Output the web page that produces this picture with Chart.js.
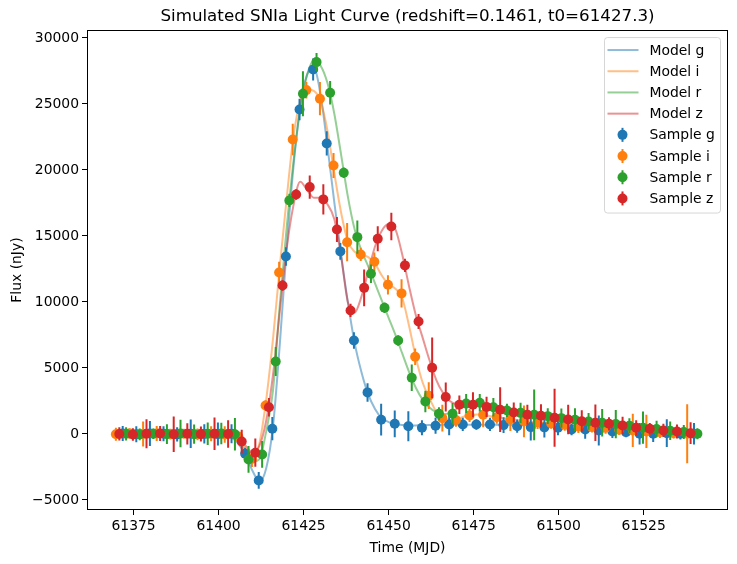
<!DOCTYPE html>
<html><head><meta charset="utf-8">
<script src="https://cdn.jsdelivr.net/npm/chart.js@4.4.1/dist/chart.umd.min.js"></script>
<style>html,body{margin:0;padding:0;background:#fff;}#wrap{width:737px;height:564px;}</style>
</head><body><div id="wrap"><canvas id="c" width="737" height="564"></canvas></div>
<script>
// ---------- data ----------
const titleText = 'Simulated SNIa Light Curve (redshift=0.1461, t0=61427.3)';
const xTicks = [61375, 61400, 61425, 61450, 61475, 61500, 61525];
const yTicks = [-5000, 0, 5000, 10000, 15000, 20000, 25000, 30000];

const timesG = [61371.8,61375.8,61379.8,61383.8,61387.8,61391.8,61395.8,61399.8,61403.8,61407.8,61411.8,61415.8,61419.8,61423.8,61427.8,61431.8,61435.8,61439.8,61443.8,61447.8,61451.8,61455.8,61459.8,61463.8,61467.8,61471.8,61475.8,61479.8,61483.8,61487.8,61491.8,61495.8,61499.8,61503.8,61507.8,61511.8,61515.8,61519.8,61523.8,61527.8,61531.8,61535.8,61539.8];
const timesI = [61369.8,61373.8,61377.8,61381.8,61385.8,61389.8,61393.8,61397.8,61401.8,61405.8,61409.8,61413.8,61417.8,61421.8,61425.8,61429.8,61433.8,61437.8,61441.8,61445.8,61449.8,61453.8,61457.8,61461.8,61465.8,61469.8,61473.8,61477.8,61481.8,61485.8,61489.8,61493.8,61497.8,61501.8,61505.8,61509.8,61513.8,61517.8,61521.8,61525.8,61529.8,61533.8,61537.8];
const timesR = [61372.8,61376.8,61380.8,61384.8,61388.8,61392.8,61396.8,61400.8,61404.8,61408.8,61412.8,61416.8,61420.8,61424.8,61428.8,61432.8,61436.8,61440.8,61444.8,61448.8,61452.8,61456.8,61460.8,61464.8,61468.8,61472.8,61476.8,61480.8,61484.8,61488.8,61492.8,61496.8,61500.8,61504.8,61508.8,61512.8,61516.8,61520.8,61524.8,61528.8,61532.8,61536.8,61540.8];
const timesZ = [61370.8,61374.8,61378.8,61382.8,61386.8,61390.8,61394.8,61398.8,61402.8,61406.8,61410.8,61414.8,61418.8,61422.8,61426.8,61430.8,61434.8,61438.8,61442.8,61446.8,61450.8,61454.8,61458.8,61462.8,61466.8,61470.8,61474.8,61478.8,61482.8,61486.8,61490.8,61494.8,61498.8,61502.8,61506.8,61510.8,61514.8,61518.8,61522.8,61526.8,61530.8,61534.8,61538.8];

const fluxG = [30,-20,40,10,-30,20,0,-10,10,-1500,-3520,400,13450,24580,27610,22010,13830,7080,3150,1080,770,590,470,620,720,720,720,720,670,590,520,500,470,340,340,265,190,140,15,15,60,15,15];
const fluxI = [-20,40,0,30,-10,20,-30,10,-40,-200,-1900,2160,12230,22310,26050,25400,20340,14530,13600,13050,11300,10650,5850,2900,1200,1050,1400,1450,1270,1100,960,880,790,700,570,520,470,320,265,190,140,60,15];
const fluxR = [10,-30,20,-10,30,-20,10,40,-20,-1930,-1550,5490,17690,25770,28170,25850,19790,14910,12140,9560,7080,4260,2460,1530,1530,2300,2360,2030,1780,1600,1450,1350,1200,1080,950,850,750,620,480,380,250,150,15];
const fluxZ = [0,-40,20,30,-20,10,-10,20,0,-570,-1420,2030,11250,18140,18700,17770,15490,9360,11070,14790,15720,12770,8520,5010,2800,2220,2210,2050,1840,1630,1460,1380,1230,1090,970,850,770,640,470,390,265,190,60];

const errG = [570,610,950,570,540,1080,730,870,720,450,630,880,700,820,830,920,630,630,700,1200,1010,1140,570,600,820,500,400,500,600,500,1010,760,570,440,700,1140,500,380,820,630,1050,440,820];
const errI = [500,400,950,570,400,320,440,570,620,320,600,400,820,1200,630,1260,950,1450,500,700,730,1070,630,1010,1010,500,500,950,500,880,1200,500,400,450,500,400,450,400,1260,1260,450,400,2240];
const errR = [500,440,400,750,1040,730,850,810,1230,1010,1010,1100,500,1700,700,885,400,1260,700,400,400,1010,820,500,820,720,660,700,500,760,1920,600,720,860,630,1040,1070,570,1230,630,700,530,420];
const errZ = [500,480,1100,570,1350,800,570,1230,1040,890,1070,700,400,400,885,1140,940,500,1390,950,1040,500,570,2300,1100,700,950,760,1700,760,760,870,2200,1120,820,1390,500,660,570,440,500,530,820];

const modelTimes = [61369.8,61380,61390,61396,61400,61402,61404,61406,61408,61410,61412,61414,61416,61418,61420,61422,61424,61426,61428,61430,61432,61434,61436,61438,61440,61442,61444,61446,61448,61450,61452,61454,61456,61458,61460,61462,61464,61466,61468,61470,61472,61474,61476,61478,61480,61490,61500,61510,61520,61530,61540.8];
const modelG = [0,0,0,0,-20,-80,-300,-800,-1600,-2800,-3600,-2600,600,6800,14000,20200,24800,27200,27700,25700,21800,17600,13600,10000,6900,4700,3000,1900,1200,900,750,680,650,650,660,670,680,690,700,700,700,700,700,700,700,680,600,470,300,150,20];
const modelI = [0,0,0,0,0,-50,-150,-400,-1100,-1800,-700,2600,7200,12700,17800,22500,25200,26100,26000,25200,23000,19800,16800,14600,13800,13600,13400,12900,12000,11300,11000,10300,8200,5800,3900,2700,1700,1200,1050,1100,1300,1420,1470,1440,1350,960,740,520,300,140,10];
const modelR = [0,0,0,0,0,-20,-100,-500,-1400,-2100,-1900,200,3300,9800,15600,20600,24600,27200,28300,27900,26600,24300,21200,18000,15500,13900,12700,11400,10100,8800,7500,6100,4700,3500,2600,2000,1650,1500,1600,1900,2200,2350,2350,2250,2100,1550,1230,890,640,330,20];
const modelZ = [0,0,0,0,0,-30,-100,-400,-900,-1400,-900,1000,4500,9300,14000,17300,19100,18500,17900,17900,17400,16300,13500,10000,9200,10400,12300,14200,15400,15900,15500,13600,11200,9000,7300,5600,4100,3100,2500,2250,2200,2200,2150,2080,2000,1500,1180,820,560,270,30];

// ---------- styling ----------
const X_MIN = 61361.3, X_MAX = 61549.8, Y_MIN = -5760, Y_MAX = 30600;
const FONT = 'DejaVu Sans';
const COL = {g:'#1f77b4', i:'#ff7f0e', r:'#2ca02c', z:'#d62728'};
const COLA = {g:'rgba(31,119,180,0.5)', i:'rgba(255,127,14,0.5)', r:'rgba(44,160,44,0.5)', z:'rgba(214,39,40,0.5)'};

const pts = (t, v) => t.map((x, k) => ({x: x, y: v[k]}));
const bars = (t, v, e) => {
  const out = [];
  t.forEach((x, k) => { out.push({x: x, y: v[k] - e[k]}); out.push({x: x, y: v[k] + e[k]}); out.push({x: x, y: null}); });
  return out;
};

const series = [
  {b:'g', t:timesG, v:fluxG, e:errG, m:modelG},
  {b:'i', t:timesI, v:fluxI, e:errI, m:modelI},
  {b:'r', t:timesR, v:fluxR, e:errR, m:modelR},
  {b:'z', t:timesZ, v:fluxZ, e:errZ, m:modelZ}
];

const datasets = [];
let ord = 100;
series.forEach(s => {
  datasets.push({label:'Model ' + s.b, data: pts(modelTimes, s.m), borderColor: COLA[s.b], borderWidth: 2,
    pointRadius: 0, showLine: true, cubicInterpolationMode: 'monotone', fill: false, order: ord--});
});
series.forEach(s => {
  datasets.push({label:'err ' + s.b, data: bars(s.t, s.v, s.e), borderColor: COL[s.b], borderWidth: 2,
    pointRadius: 0, showLine: true, spanGaps: false, tension: 0, fill: false, order: ord--});
  datasets.push({label:'Sample ' + s.b, data: pts(s.t, s.v), showLine: false, pointRadius: 5, pointHoverRadius: 5,
    pointBackgroundColor: COL[s.b], pointBorderWidth: 0, borderColor: COL[s.b], order: ord--});
});

const framePlugin = {
  id: 'frame',
  afterDraw(chart) {
    const {ctx, chartArea: a} = chart;
    ctx.save();
    ctx.strokeStyle = '#000';
    ctx.lineWidth = 1;
    ctx.strokeRect(Math.round(a.left) + 0.5, Math.round(a.top) + 0.5, Math.round(a.right - a.left) - 1, Math.round(a.bottom - a.top) - 1);
    ctx.restore();
  }
};

const legendItems = [
  {label:'Model g', kind:'line', b:'g'}, {label:'Model i', kind:'line', b:'i'},
  {label:'Model r', kind:'line', b:'r'}, {label:'Model z', kind:'line', b:'z'},
  {label:'Sample g', kind:'pt', b:'g'}, {label:'Sample i', kind:'pt', b:'i'},
  {label:'Sample r', kind:'pt', b:'r'}, {label:'Sample z', kind:'pt', b:'z'}
];
const legendPlugin = {
  id: 'mplLegend',
  afterDraw(chart) {
    const ctx = chart.ctx;
    const a = chart.chartArea;
    const bw = 116, bh = 175.5;
    const bx = a.right - 7.5 - bw, by = a.top + 7.5;
    ctx.save();
    ctx.beginPath();
    ctx.roundRect(bx, by, bw, bh, 3);
    ctx.fillStyle = 'rgba(255,255,255,0.8)';
    ctx.fill();
    ctx.strokeStyle = 'rgba(204,204,204,0.8)';
    ctx.lineWidth = 1;
    ctx.stroke();
    ctx.font = '13.9px "' + FONT + '"';
    ctx.textBaseline = 'middle';
    ctx.textAlign = 'left';
    legendItems.forEach((it, k) => {
      const y = by + 12.5 + k * 21.2;
      if (it.kind === 'line') {
        ctx.strokeStyle = COLA[it.b];
        ctx.lineWidth = 2;
        ctx.beginPath(); ctx.moveTo(bx + 3, y); ctx.lineTo(bx + 34, y); ctx.stroke();
      } else {
        const cx = bx + 18;
        ctx.strokeStyle = COL[it.b];
        ctx.lineWidth = 2;
        ctx.beginPath(); ctx.moveTo(cx, y - 7); ctx.lineTo(cx, y + 7); ctx.stroke();
        ctx.fillStyle = COL[it.b];
        ctx.beginPath(); ctx.arc(cx, y, 5, 0, Math.PI * 2); ctx.fill();
      }
      ctx.fillStyle = '#000';
      ctx.fillText(it.label, bx + 45, y + 1);
    });
    ctx.restore();
  }
};

const tickFont = {family: FONT, size: 13.9};
const minus = v => v < 0 ? '\u2212' + Math.abs(v) : String(v);

new Chart(document.getElementById('c'), {
  type: 'line',
  data: {datasets: datasets},
  options: {
    responsive: false, animation: false, devicePixelRatio: 1,
    events: [],
    layout: {padding: {left: 0, right: 9, top: 0, bottom: 0}},
    plugins: {
      legend: {display: false},
      tooltip: {enabled: false},
      title: {display: true, text: titleText, color: '#000', fullSize: false,
        font: {family: FONT, size: 16.7, weight: 'normal'}, padding: {top: 7, bottom: 3}}
    },
    scales: {
      x: {
        type: 'linear', min: X_MIN, max: X_MAX,
        afterBuildTicks: s => { s.ticks = xTicks.map(v => ({value: v})); },
        afterFit: s => { s.height = 54; },
        ticks: {font: tickFont, color: '#000', padding: 3, maxRotation: 0, autoSkip: false, callback: v => String(v)},
        grid: {display: true, drawOnChartArea: false, drawTicks: true, tickLength: 5, tickColor: '#000', tickWidth: 1},
        border: {display: false},
        title: {display: true, text: 'Time (MJD)', color: '#000', font: tickFont, padding: {top: 0, bottom: 7}}
      },
      y: {
        type: 'linear', min: Y_MIN, max: Y_MAX,
        afterBuildTicks: s => { s.ticks = yTicks.map(v => ({value: v})); },
        afterFit: s => { s.width = 87; },
        ticks: {font: tickFont, color: '#000', padding: 3, autoSkip: false, callback: v => minus(v)},
        grid: {display: true, drawOnChartArea: false, drawTicks: true, tickLength: 5, tickColor: '#000', tickWidth: 1},
        border: {display: false},
        title: {display: true, text: 'Flux (nJy)', color: '#000', font: tickFont, padding: {top: 9, bottom: 0}}
      }
    }
  },
  plugins: [framePlugin, legendPlugin]
});
</script>
</body></html>
